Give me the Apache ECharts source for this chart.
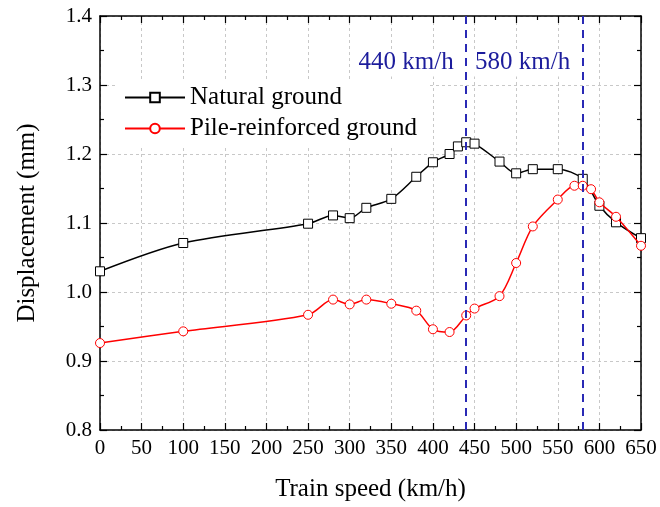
<!DOCTYPE html>
<html>
<head>
<meta charset="utf-8">
<script src="https://cdn.jsdelivr.net/npm/echarts@6/dist/echarts.min.js"></script>
<style>html,body{margin:0;padding:0;background:#fff;}#c{width:660px;height:507px;}</style>
</head>
<body>
<div id="c"></div>
<script>
const speedsNatural = [0,100,250,280,300,320,350,380,400,420,430,440,450,480,500,520,550,580,600,620,650];
const naturalGround = [1.030,1.071,1.099,1.111,1.107,1.122,1.135,1.167,1.188,1.200,1.211,1.217,1.215,1.189,1.172,1.178,1.178,1.164,1.125,1.101,1.078];
const speedsPile = [0,100,250,280,300,320,350,380,400,420,440,450,480,500,520,550,570,580,590,600,620,650];
const pileReinforced = [0.926,0.943,0.967,0.989,0.982,0.989,0.983,0.973,0.946,0.942,0.966,0.976,0.994,1.042,1.095,1.134,1.154,1.154,1.149,1.130,1.109,1.067];
const criticalSpeeds = [440, 580];
const criticalLabels = ['440 km/h', '580 km/h'];
const criticalLabelY = 1.332;
const seriesNames = ['Natural ground', 'Pile-reinforced ground'];

const FONT = 'Liberation Serif';
const chart = echarts.init(document.getElementById('c'), null, {renderer: 'canvas'});

function zip(xs, ys) { return xs.map((x, i) => [x, ys[i]]); }

const axisCommon = {
  type: 'value',
  axisLine: {show: true, onZero: false, lineStyle: {color: '#000', width: 1.5}},
  axisTick: {show: true, inside: true, length: 7, lineStyle: {color: '#000', width: 1.2}},
  minorTick: {show: true, splitNumber: 2, length: 4, lineStyle: {color: '#000', width: 1.2}},
};

const option = {
  backgroundColor: '#fff',
  animation: false,
  grid: {left: 100, right: 19, top: 16, bottom: 74, containLabel: false},
  legend: {
    left: 118, top: 79, orient: 'vertical',
    backgroundColor: '#fff', padding: [6, 10, 6, 6],
    itemWidth: 60, itemHeight: 12, itemGap: 6,
    textStyle: {fontFamily: FONT, fontSize: 25, color: '#000'},
    data: seriesNames
  },
  xAxis: [
    Object.assign({}, axisCommon, {
      min: 0, max: 650, interval: 50, position: 'bottom',
      name: 'Train speed (km/h)', nameLocation: 'middle', nameGap: 47,
      nameTextStyle: {fontFamily: FONT, fontSize: 25, color: '#000'},
      axisLabel: {fontFamily: FONT, fontSize: 21, color: '#000', margin: 8},
      splitLine: {show: true, lineStyle: {color: '#c8c8c8', type: [3, 3], width: 1}}
    }),
    Object.assign({}, axisCommon, {
      min: 0, max: 650, interval: 50, position: 'top',
      axisLabel: {show: false}, splitLine: {show: false}
    })
  ],
  yAxis: [
    Object.assign({}, axisCommon, {
      min: 0.8, max: 1.4, interval: 0.1, position: 'left',
      name: 'Displacement (mm)', nameLocation: 'middle', nameGap: 60,
      nameTextStyle: {fontFamily: FONT, fontSize: 25, color: '#000'},
      axisLabel: {fontFamily: FONT, fontSize: 21, color: '#000', margin: 8, formatter: v => v.toFixed(1)},
      splitLine: {show: true, lineStyle: {color: '#c8c8c8', type: [3, 3], width: 1}}
    }),
    Object.assign({}, axisCommon, {
      min: 0.8, max: 1.4, interval: 0.1, position: 'right',
      axisLabel: {show: false}, splitLine: {show: false}
    })
  ],
  series: [
    {
      name: seriesNames[0], type: 'line', xAxisIndex: 0, yAxisIndex: 0,
      data: zip(speedsNatural, naturalGround),
      smooth: 0.3, clip: false,
      symbol: 'rect', symbolSize: 9,
      lineStyle: {color: '#000', width: 1.5},
      itemStyle: {color: '#fff', borderColor: '#000', borderWidth: 1},
      z: 3
    },
    {
      name: seriesNames[1], type: 'line', xAxisIndex: 0, yAxisIndex: 0,
      data: zip(speedsPile, pileReinforced),
      smooth: 0.3, clip: false,
      symbol: 'circle', symbolSize: 9,
      lineStyle: {color: '#ff0000', width: 1.5},
      itemStyle: {color: '#fff', borderColor: '#ff0000', borderWidth: 1},
      z: 4,
      markLine: {
        silent: true, symbol: ['none', 'none'],
        label: {show: false},
        lineStyle: {color: '#2a2ab5', type: [8, 6], width: 2},
        data: criticalSpeeds.map(s => ({xAxis: s}))
      },
      markPoint: {
        silent: true, symbol: 'circle', symbolSize: 1,
        itemStyle: {color: 'rgba(0,0,0,0)'},
        label: {
          show: true, position: 'left', distance: 10,
          fontFamily: FONT, fontSize: 25, color: '#1c1c9c',
          backgroundColor: '#fff', padding: [2, 2, 0, 2]
        },
        data: criticalSpeeds.map((s, i) => ({coord: [s, criticalLabelY], label: {formatter: criticalLabels[i]}}))
      }
    }
  ]
};
chart.setOption(option);
</script>
</body>
</html>
